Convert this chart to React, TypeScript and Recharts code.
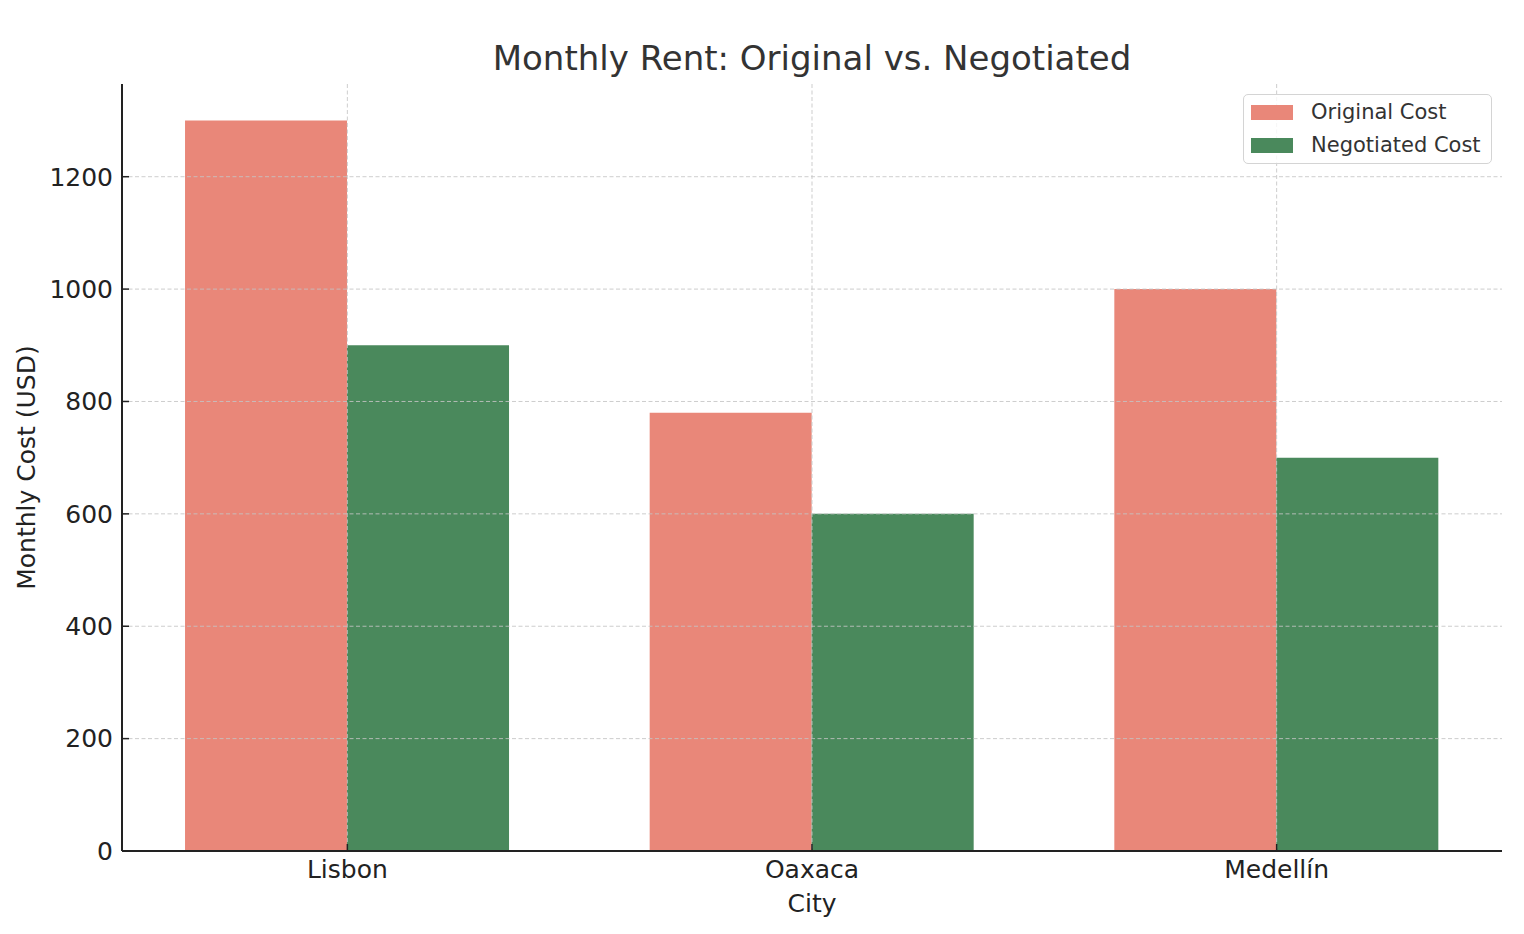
import React from "react";
import { BarChart, Bar, XAxis, YAxis, CartesianGrid } from "recharts";

const cities = ["Lisbon", "Oaxaca", "Medellín"];
const originalCost = [1300, 780, 1000];
const negotiatedCost = [900, 600, 700];
const yTicks = [0, 200, 400, 600, 800, 1000, 1200];
const xTicks = [0, 1, 2];

const data = cities.map((c, i) => ({
  x: i,
  city: c,
  original: originalCost[i],
  negotiated: negotiatedCost[i],
}));

const FONT = "'DejaVu Sans', sans-serif";
const ORANGE = "#E98779";
const GREEN = "#4A895C";

const LegendBox = () => (
  <div
    style={{
      position: "absolute",
      left: 1243,
      top: 94,
      width: 249,
      height: 70,
      border: "1.5px solid #d4d4d4",
      borderRadius: 5,
      background: "rgba(255,255,255,0.8)",
      fontFamily: FONT,
      fontSize: 21,
      color: "#333",
      boxSizing: "border-box",
    }}
  >
    {[
      { label: "Original Cost", color: ORANGE },
      { label: "Negotiated Cost", color: GREEN },
    ].map((e, i) => (
      <div
        key={e.label}
        style={{
          position: "absolute",
          left: 7,
          top: 7 + i * 33,
          height: 20,
          display: "flex",
          alignItems: "center",
          whiteSpace: "nowrap",
        }}
      >
        <span style={{ display: "inline-block", width: 42, height: 15, background: e.color, marginRight: 18 }} />
        <span>{e.label}</span>
      </div>
    ))}
  </div>
);

const top = { zIndex: 2000 } as any;

export default function App() {
  return (
    <div style={{ position: "absolute", left: 0, top: 0, width: 1524, height: 934, background: "#fff" }}>
      <div
        style={{
          position: "absolute",
          left: 122,
          width: 1380,
          top: 41,
          textAlign: "center",
          fontFamily: FONT,
          fontSize: 34,
          lineHeight: "34px",
          color: "#333",
          whiteSpace: "nowrap",
        }}
      >
        Monthly Rent: Original vs. Negotiated
      </div>
      <BarChart
        width={1524}
        height={934}
        data={data}
        margin={{ top: 84, right: 22, bottom: 0, left: 0 }}
        barGap={0}
        style={{ position: "absolute", left: 0, top: 0 }}
      >
        <XAxis
          {...top}
          dataKey="x"
          type="number"
          domain={[-0.485, 2.485]}
          ticks={xTicks}
          allowDataOverflow
          tickFormatter={(v) => cities[v] ?? ""}
          height={83}
          tickSize={-7}
          tickMargin={16}
          axisLine={{ stroke: "#222", strokeWidth: 2 }}
          tickLine={{ stroke: "#222", strokeWidth: 1.5 }}
          tick={{ fill: "#222", fontSize: 25, fontFamily: FONT }}
          label={{
            content: ({ viewBox }: any) => (
              <text
                x={viewBox.x + viewBox.width / 2}
                y={viewBox.y + 61}
                textAnchor="middle"
                fill="#222"
                fontSize={25}
                fontFamily={FONT}
              >
                City
              </text>
            ),
          }}
        />
        <YAxis
          {...top}
          type="number"
          domain={[0, 1365]}
          ticks={yTicks}
          allowDataOverflow
          width={122}
          tickSize={-7}
          tickMargin={16}
          axisLine={{ stroke: "#222", strokeWidth: 2 }}
          tickLine={{ stroke: "#222", strokeWidth: 1.5 }}
          tick={{ fill: "#222", fontSize: 25, fontFamily: FONT }}
          label={{
            content: ({ viewBox }: any) => {
              const cx = 26;
              const cy = viewBox.y + viewBox.height / 2;
              return (
                <text
                  x={cx}
                  y={cy}
                  transform={`rotate(-90, ${cx}, ${cy})`}
                  textAnchor="middle"
                  dominantBaseline="central"
                  fill="#222"
                  fontSize={25}
                  fontFamily={FONT}
                >
                  Monthly Cost (USD)
                </text>
              );
            },
          }}
        />
        <Bar dataKey="original" name="Original Cost" fill={ORANGE} barSize={162} isAnimationActive={false} />
        <Bar dataKey="negotiated" name="Negotiated Cost" fill={GREEN} barSize={162} isAnimationActive={false} />
        <CartesianGrid
          stroke="#c4c4c4"
          strokeOpacity={0.85}
          strokeDasharray="4 2.5"
          strokeWidth={1}
          syncWithTicks
          {...({ zIndex: 1000 } as any)}
        />
      </BarChart>
      <LegendBox />
    </div>
  );
}
